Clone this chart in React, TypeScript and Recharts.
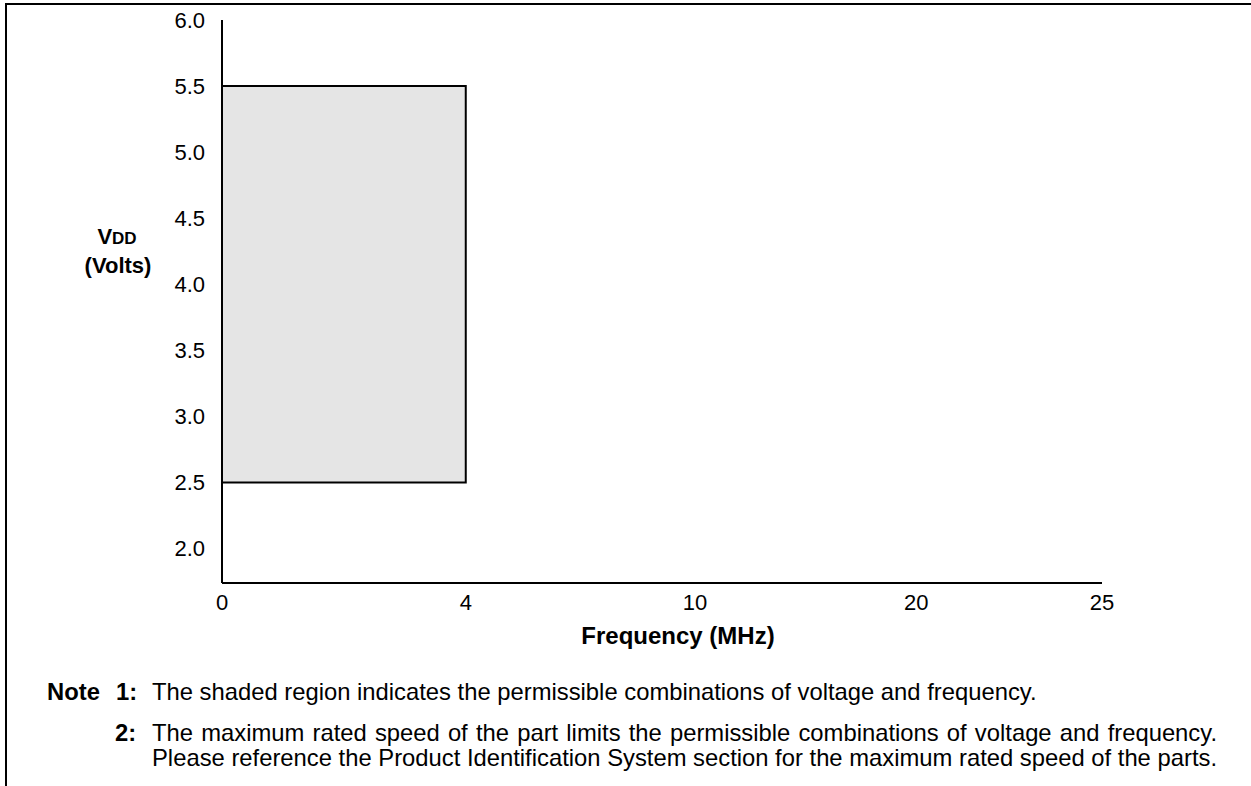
import { ComposedChart, XAxis, YAxis, ReferenceArea } from "recharts";

const FONT = '"Liberation Sans", Arial, Helvetica, sans-serif';

// The frequency axis in the datasheet is schematic: labelled stops sit at
// uneven places along the axis, so the axis runs on "stop" positions (0..1).
const freqTicks = [0, 4, 10, 20, 25];
const freqStops = [0, 0.277, 0.5375, 0.789, 1];
const voltTicks = [2.0, 2.5, 3.0, 3.5, 4.0, 4.5, 5.0, 5.5, 6.0];

// Shaded region: permissible VDD / frequency combinations
const regionFreq = [0, 4];
const regionVolt = [2.5, 5.5];

const note1 = "The shaded region indicates the permissible combinations of voltage and frequency.";
const note2 = [
  "The maximum rated speed of the part limits the permissible combinations of voltage and frequency.",
  "Please reference the Product Identification System section for the maximum rated speed of the parts.",
];

const stopOf = (f: number) => freqStops[freqTicks.indexOf(f)];

const data = regionFreq.map((f, i) => ({ stop: stopOf(f), volt: regionVolt[i] }));

function VoltTitle() {
  return (
    <text textAnchor="middle" fontFamily={FONT} fontWeight="bold" fill="#000">
      <tspan x={117} y={244} fontSize={22}>
        V
      </tspan>
      <tspan fontSize={17}>DD</tspan>
      <tspan x={118} y={273} fontSize={22}>
        (Volts)
      </tspan>
    </text>
  );
}

function FreqTitle() {
  return (
    <text x={678} y={644} textAnchor="middle" fontFamily={FONT} fontWeight="bold" fontSize={24} fill="#000">
      Frequency (MHz)
    </text>
  );
}

const tickStyle = { fill: "#000", fontSize: 22, fontFamily: FONT };
const lineStyle = { stroke: "#000", strokeWidth: 2 };

export default function App() {
  return (
    <div style={{ position: "absolute", left: 0, top: 0, width: 1251, height: 786, background: "#fff", fontFamily: FONT, color: "#000" }}>
      {/* figure frame */}
      <div style={{ position: "absolute", left: 5, top: 3, width: 1246, height: 2, background: "#000" }} />
      <div style={{ position: "absolute", left: 5, top: 3, width: 2, height: 783, background: "#000" }} />

      <div style={{ position: "absolute", left: 0, top: 0 }}>
        <ComposedChart width={1251} height={660} data={data} margin={{ top: 20, right: 149, bottom: 47, left: 162 }}>
          <XAxis
            type="number"
            dataKey="stop"
            domain={[0, 1]}
            ticks={freqStops}
            interval={0}
            tickFormatter={(v: number) => String(freqTicks[freqStops.indexOf(v)])}
            tick={tickStyle}
            tickLine={false}
            tickSize={0}
            tickMargin={11}
            axisLine={lineStyle}
            height={30}
            label={<FreqTitle />}
          />
          <YAxis
            type="number"
            dataKey="volt"
            domain={[1.74, 6]}
            ticks={voltTicks}
            interval={0}
            allowDataOverflow
            tickFormatter={(v: number) => v.toFixed(1)}
            tick={tickStyle}
            tickLine={false}
            tickSize={0}
            tickMargin={17}
            axisLine={lineStyle}
            width={60}
            label={<VoltTitle />}
          />
          <ReferenceArea
            x1={stopOf(regionFreq[0])}
            x2={stopOf(regionFreq[1])}
            y1={regionVolt[0]}
            y2={regionVolt[1]}
            fill="#e5e5e5"
            fillOpacity={1}
            stroke="#000"
            strokeWidth={2}
            ifOverflow="visible"
          />
        </ComposedChart>
      </div>

      {/* notes */}
      <div style={{ position: "absolute", top: 679, left: 0, width: 1251, fontSize: 23.8, lineHeight: "25px" }}>
        <div style={{ position: "absolute", right: 1151, top: 0, fontWeight: "bold" }}>Note</div>
        <div style={{ position: "absolute", left: 116, top: 0, fontWeight: "bold" }}>1:</div>
        <div style={{ position: "absolute", left: 152, top: 0, whiteSpace: "nowrap" }}>{note1}</div>
        <div style={{ position: "absolute", left: 115, top: 41, fontWeight: "bold" }}>2:</div>
        <div style={{ position: "absolute", left: 152, top: 41, width: 1065 }}>
          {note2.map((line) => (
            <div key={line} style={{ textAlign: "justify", textAlignLast: "justify", whiteSpace: "nowrap" }}>
              {line}
            </div>
          ))}
        </div>
      </div>
    </div>
  );
}
